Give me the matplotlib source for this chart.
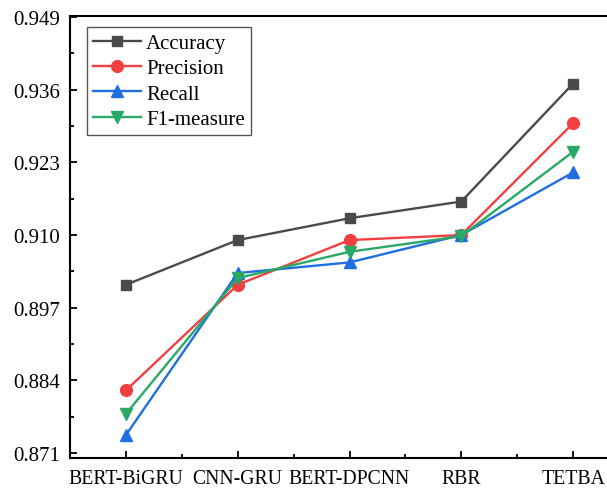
import matplotlib.pyplot as plt
from matplotlib.ticker import MultipleLocator, AutoMinorLocator

models = ['BERT-BiGRU', 'CNN-GRU', 'BERT-DPCNN', 'RBR', 'TETBA']
accuracy = [0.9011, 0.9091, 0.9130, 0.9160, 0.9371]
precision = [0.8822, 0.9011, 0.9091, 0.9100, 0.9300]
recall = [0.8742, 0.9032, 0.9051, 0.9100, 0.9212]
f1 = [0.8780, 0.9023, 0.9070, 0.9098, 0.9249]

plt.rcParams['font.family'] = ['Liberation Serif', 'DejaVu Serif']

fig = plt.figure(figsize=(6.07, 4.89), dpi=100)
# the original is cropped on the right, so the axes run past the figure edge
ax = fig.add_axes([70 / 607, 0.0613, 559 / 607, 0.904])

x = list(range(1, len(models) + 1))
ax.plot(x, accuracy, marker='s', color='#4a4a4a', lw=1.7, ms=7.5, label='Accuracy')
ax.plot(x, precision, marker='o', color='#f24040', lw=1.7, ms=8.5, label='Precision')
ax.plot(x, recall, marker='^', color='#1f6fe0', lw=1.7, ms=8.5, label='Recall')
ax.plot(x, f1, marker='v', color='#2aa866', lw=1.7, ms=8.5, label='F1-measure')

ax.set_xlim(0.5, 5.5)
ax.set_ylim(0.8701, 0.9492)
ax.set_xticks(x)
ax.set_xticklabels(models)
ax.set_yticks([0.871, 0.884, 0.897, 0.910, 0.923, 0.936, 0.949])
ax.yaxis.set_minor_locator(AutoMinorLocator(2))
ax.xaxis.set_minor_locator(MultipleLocator(0.5))
ax.yaxis.set_major_formatter(plt.FormatStrFormatter('%.3f'))

ax.tick_params(which='both', direction='in', width=1.3)
ax.tick_params(which='major', length=5)
ax.tick_params(which='minor', length=3)
ax.tick_params(axis='x', labelsize=14.2, pad=8)
ax.tick_params(axis='y', labelsize=15, pad=7)
for s in ax.spines.values():
    s.set_linewidth(1.5)

leg = ax.legend(loc='upper left', bbox_to_anchor=(0.030, 0.975), borderaxespad=0,
                fontsize=15, fancybox=False, edgecolor='#555555', framealpha=1,
                handlelength=2.3, borderpad=0.3, labelspacing=0.28, handletextpad=0.25)
leg.get_frame().set_linewidth(1.0)

plt.savefig('out.png', dpi=100)
